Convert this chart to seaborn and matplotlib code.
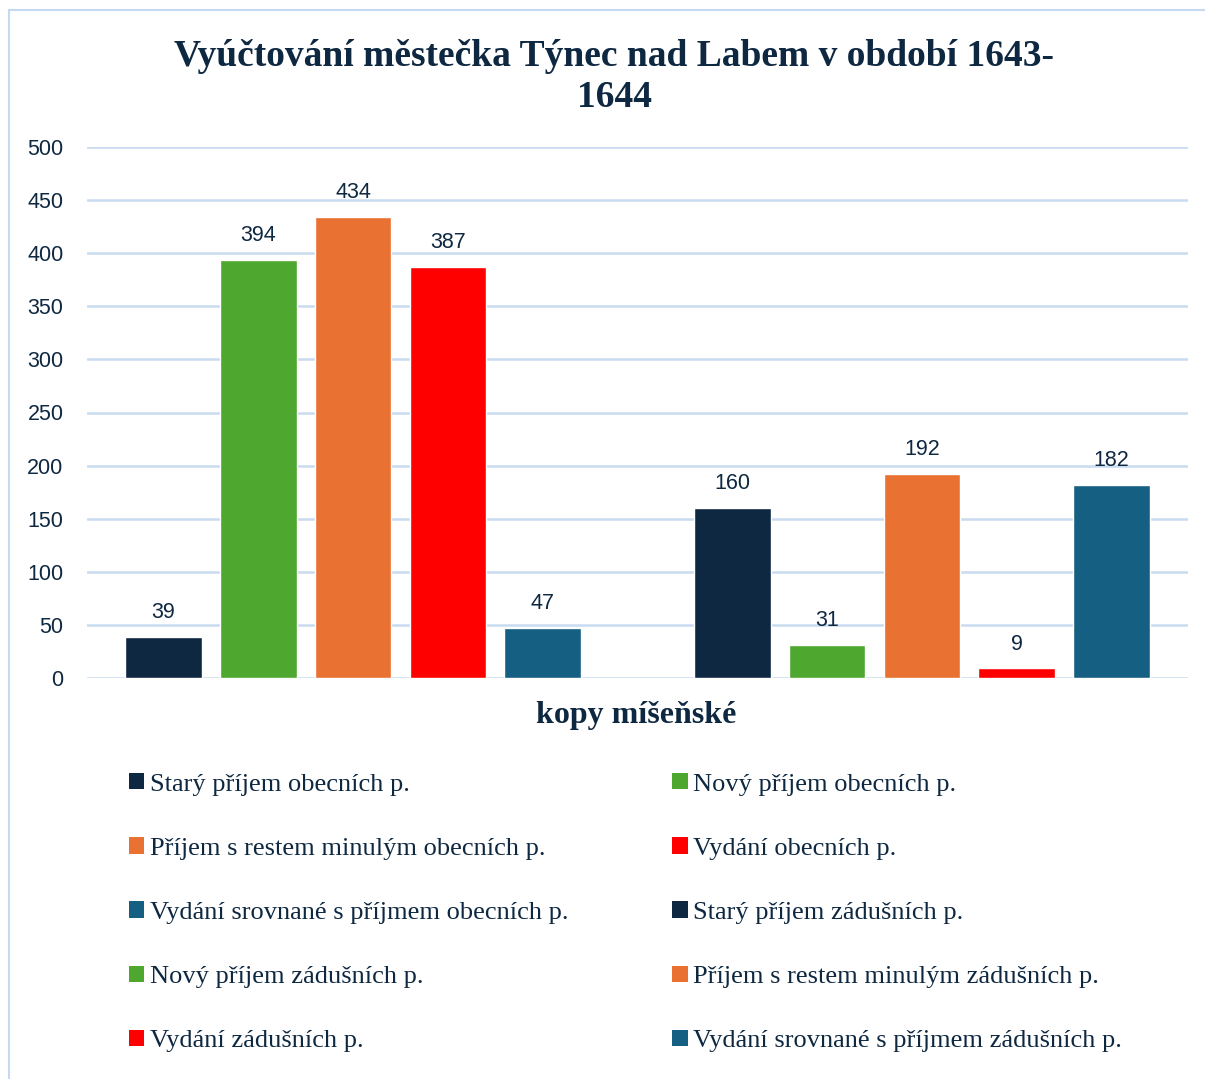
import matplotlib
matplotlib.use("Agg")
import matplotlib.pyplot as plt
from matplotlib.patches import Patch, Rectangle
import seaborn as sns
import pandas as pd

# data
series = [
    "Starý příjem obecních p.",
    "Nový příjem obecních p.",
    "Příjem s restem minulým obecních p.",
    "Vydání obecních p.",
    "Vydání srovnané s příjmem obecních p.",
    "Starý příjem zádušních p.",
    "Nový příjem zádušních p.",
    "Příjem s restem minulým zádušních p.",
    "Vydání zádušních p.",
    "Vydání srovnané s příjmem zádušních p.",
]
values = [39, 394, 434, 387, 47, 160, 31, 192, 9, 182]
colors = ["#0E2841", "#4EA72E", "#E97132", "#FF0000", "#156082",
          "#0E2841", "#4EA72E", "#E97132", "#FF0000", "#156082"]
category = "kopy míšeňské"
title = "Vyúčtování městečka Týnec nad Labem v období 1643-\n1644"

navy = "#0E2841"
grid_col = "#C9DBF0"

# two groups of five bars with one empty slot between them
slots = [(i // 5) * 6 + (i % 5) for i in range(len(series))]
df = pd.DataFrame({"slot": slots, "value": values, "series": series})

sns.set_style("white")
plt.rcParams["font.family"] = ["Liberation Sans", "DejaVu Sans"]

fig = plt.figure(figsize=(12.05, 10.79), dpi=100)
ax = fig.add_axes([87 / 1205, 1 - 678 / 1079, 1101 / 1205, 531 / 1079])

sns.barplot(data=df, x="slot", y="value", hue="series", hue_order=series,
            palette=colors, native_scale=True, dodge=False, width=0.81,
            saturation=1, legend=False, ax=ax)

for c in ax.containers:
    ax.bar_label(c, padding=10, fontsize=15.5, color=navy)

ax.set_ylim(0, 500)
ax.set_xlim(-0.807, 10.807)
ax.set_yticks(range(0, 501, 50))
ax.set_xticks([])
ax.set_xlabel("")
ax.set_ylabel("")
ax.tick_params(axis="y", length=0, pad=17, labelsize=15.5, labelcolor=navy)
ax.yaxis.grid(True, color=grid_col, lw=1.8)
ax.set_axisbelow(True)
sns.despine(ax=ax, left=True, bottom=True, top=True, right=True)

fig.text(614 / 1205, 1 - 77 / 1079, title, ha="center", va="center",
         fontsize=27, fontweight="bold", color=navy,
         family=["Liberation Serif", "DejaVu Serif"], linespacing=1.25)
fig.text(636 / 1205, 1 - 715 / 1079, category, ha="center", va="center",
         fontsize=23, fontweight="bold", color=navy,
         family=["Liberation Serif", "DejaVu Serif"])

# legend: row-major order in two columns
handles = [Patch(facecolor=col, edgecolor="none") for col in colors]
order = list(range(0, 10, 2)) + list(range(1, 10, 2))
leg = fig.legend([handles[i] for i in order], [series[i] for i in order],
                 ncol=2, loc="upper left",
                 bbox_to_anchor=(129 / 1205, 1 - 773 / 1079),
                 frameon=False, handlelength=0.58, handleheight=0.58,
                 handletextpad=0.2, labelspacing=1.58, columnspacing=3.95,
                 borderpad=0, borderaxespad=0,
                 prop={"family": ["Liberation Serif", "DejaVu Serif"], "size": 19})
for t in leg.get_texts():
    t.set_color(navy)

fig.patches.append(Rectangle((9 / 1205, -0.02), 1.1, 1 - 10 / 1079 + 0.02,
                             transform=fig.transFigure, fill=False,
                             edgecolor="#C5DAF0", lw=1.5))

fig.savefig("out.png", dpi=100, facecolor="white")
